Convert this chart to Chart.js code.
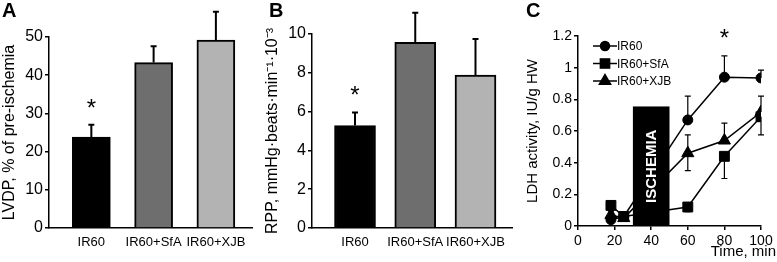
<!DOCTYPE html>
<html>
<head>
<meta charset="utf-8">
<script src="https://cdn.jsdelivr.net/npm/chart.js@4/dist/chart.umd.min.js"></script>
<style>
    body { margin: 0; background: #fff; width: 777px; height: 262px; overflow: hidden; position: relative; }
    canvas { position: absolute; top: 0; }
    .letter { position: absolute; top: 0; font: bold 20px "Liberation Sans", Arial, sans-serif; color: #000; line-height: 20px; }
</style>
</head>
<body>
<canvas id="chartA" width="260" height="262" style="left:0"></canvas>
<canvas id="chartB" width="260" height="262" style="left:260px"></canvas>
<canvas id="chartC" width="257" height="262" style="left:520px"></canvas>
<div class="letter" style="left:2px">A</div>
<div class="letter" style="left:269px">B</div>
<div class="letter" style="left:526px">C</div>

<script>
/* ================================
   DATA
================================ */
const groups = ['IR60', 'IR60+SfA', 'IR60+XJB'];
const groupPos = [1, 2, 3];
const barColors = ['#000000', '#6e6e6e', '#b3b3b3'];

// panel A - LVDP, % of pre-ischemia
const lvdp = [23.8, 43.3, 49.2];
const lvdpErr = [3.2, 4.3, 7.4];

// panel B - RPP
const rpp = [5.28, 9.57, 7.88];
const rppErr = [0.68, 1.53, 1.86];

// panel C - LDH activity over time
const timeMin = [18, 25, 60, 80, 100];
const ldhIR60 = [0.04, 0.06, 0.67, 0.94, 0.935];
const ldhSfA = [0.13, 0.06, 0.12, 0.44, 0.69];
const ldhXJB = [0.07, 0.05, 0.46, 0.54, 0.72];
const ldhIR60Hi = [0.02, 0, 0.15, 0.135, 0.05];
const ldhIR60Lo = [0, 0, 0, 0, 0];
const ldhSfAHi = [0, 0, 0, 0, 0];
const ldhSfALo = [0.03, 0, 0.03, 0.14, 0.115];
const ldhXJBHi = [0.02, 0, 0.115, 0.11, 0.1];
const ldhXJBLo = [0, 0, 0.11, 0, 0];
const ischemiaRange = [30, 50];
const ischemiaTop = 0.755;
const starTime = 80;

const FONT = '"Liberation Sans", Arial, sans-serif';

/* ================================
   SHARED HELPERS
================================ */
function yAxis(max, step, title, fontSize, width, titlePad) {
    return {
        min: 0, max: max,
        ticks: { stepSize: step, color: '#000', font: { family: FONT, size: fontSize }, padding: 2 },
        grid: { display: true, drawOnChartArea: false, drawTicks: true, tickLength: 4, color: '#000', lineWidth: 1.5 },
        border: { display: true, color: '#000', width: 1.5 },
        title: { display: true, text: title, color: '#000', font: { family: FONT, size: 16 }, padding: { top: titlePad, bottom: 0 } },
        afterFit(scale) { scale.width = width; }
    };
}

function drawStar(ctx, x, top) {
    ctx.save();
    ctx.fillStyle = '#000';
    ctx.font = '24px ' + FONT;
    ctx.textAlign = 'center';
    ctx.textBaseline = 'alphabetic';
    ctx.fillText('*', x, top + 3);
    ctx.restore();
}

function barErrorPlugin(values, errs) {
    return {
        id: 'barErrors',
        afterDatasetsDraw(chart) {
            const { ctx, scales: { x, y } } = chart;
            ctx.save();
            ctx.strokeStyle = '#000';
            ctx.lineWidth = 2;
            values.forEach((v, i) => {
                const px = x.getPixelForValue(groupPos[i]);
                const top = y.getPixelForValue(v + errs[i]);
                ctx.beginPath();
                ctx.moveTo(px, y.getPixelForValue(v));
                ctx.lineTo(px, top);
                ctx.moveTo(px - 3, top);
                ctx.lineTo(px + 3, top);
                ctx.stroke();
            });
            ctx.restore();
            // significance mark on IR60
            drawStar(ctx, x.getPixelForValue(groupPos[0]), y.getPixelForValue(values[0] + errs[0]) - 12);
        }
    };
}

function barChart(id, values, errs, yMax, yStep, yTitle, xMin, xMax, leftW, rightPad, topPad, barW, titlePad) {
    new Chart(document.getElementById(id), {
        type: 'bar',
        data: {
            datasets: [{
                data: values.map((v, i) => ({ x: groupPos[i], y: v })),
                backgroundColor: barColors,
                borderColor: '#000',
                borderWidth: 2,
                borderSkipped: 'start',
                barThickness: barW
            }]
        },
        options: {
            responsive: false,
            animation: false,
            layout: { padding: { top: topPad, right: rightPad, left: 0, bottom: 0 } },
            plugins: { legend: { display: false }, tooltip: { enabled: false } },
            scales: {
                x: {
                    type: 'linear', min: xMin, max: xMax, offset: false,
                    afterBuildTicks(scale) { scale.ticks = groupPos.map(v => ({ value: v })); },
                    ticks: { color: '#000', font: { family: FONT, size: 13 }, padding: 7, autoSkip: false, maxRotation: 0,
                        callback: (v, i) => groups[i] },
                    grid: { display: true, offset: false, drawOnChartArea: false, drawTicks: false, color: '#000' },
                    border: { display: true, color: '#000', width: 1.5 },
                    afterFit(scale) { scale.height = 34; }
                },
                y: yAxis(yMax, yStep, yTitle, 16, leftW, titlePad)
            }
        },
        plugins: [barErrorPlugin(values, errs)]
    });
}

/* ================================
   PANELS A & B
================================ */
barChart('chartA', lvdp, lvdpErr, 50, 10, 'LVDP, % of pre-ischemia', 0.32, 3.58, 49, 8, 37, 38, 0);
barChart('chartB', rpp, rppErr, 10, 2, 'RPP, mmHg·beats·min⁻¹·10⁻³', 0.286, 3.606, 52, 8, 34, 41, 3);

/* ================================
   PANEL C - LDH TIME COURSE
================================ */
const ldhSeries = [
    { label: 'IR60', data: ldhIR60, hi: ldhIR60Hi, lo: ldhIR60Lo, style: 'circle', r: 5 },
    { label: 'IR60+SfA', data: ldhSfA, hi: ldhSfAHi, lo: ldhSfALo, style: 'rect', r: 7 },
    { label: 'IR60+XJB', data: ldhXJB, hi: ldhXJBHi, lo: ldhXJBLo, style: 'triangle', r: 7 }
];

const ldhPlugin = {
    id: 'ldhExtras',
    afterDatasetsDraw(chart) {
        const { ctx, scales: { x, y } } = chart;
        ctx.save();
        // error bars
        ctx.strokeStyle = '#000';
        ctx.lineWidth = 1.2;
        ldhSeries.forEach(s => {
            timeMin.forEach((t, i) => {
                const px = x.getPixelForValue(t);
                [s.hi[i], -s.lo[i]].forEach(e => {
                    if (!e) return;
                    const end = y.getPixelForValue(s.data[i] + e);
                    ctx.beginPath();
                    ctx.moveTo(px, y.getPixelForValue(s.data[i]));
                    ctx.lineTo(px, end);
                    ctx.moveTo(px - 3, end);
                    ctx.lineTo(px + 3, end);
                    ctx.stroke();
                });
            });
        });

        // ischemia block covers the lines
        const bx0 = x.getPixelForValue(ischemiaRange[0]);
        const bx1 = x.getPixelForValue(ischemiaRange[1]);
        const by0 = y.getPixelForValue(ischemiaTop);
        const by1 = y.getPixelForValue(0);
        ctx.fillStyle = '#000';
        ctx.fillRect(bx0, by0, bx1 - bx0, by1 - by0);
        ctx.save();
        ctx.translate((bx0 + bx1) / 2, (by0 + by1) / 2);
        ctx.rotate(-Math.PI / 2);
        ctx.fillStyle = '#fff';
        ctx.font = 'bold 15px ' + FONT;
        ctx.textAlign = 'center';
        ctx.textBaseline = 'middle';
        ctx.fillText('ISCHEMIA', 0, 1);
        ctx.restore();

        // legend
        ctx.font = '12px ' + FONT;
        ctx.textAlign = 'left';
        ctx.textBaseline = 'middle';
        ldhSeries.forEach((s, i) => {
            const ly = 46 + i * 17.5;
            ctx.lineWidth = 1.5;
            ctx.beginPath();
            ctx.moveTo(73, ly);
            ctx.lineTo(97, ly);
            ctx.stroke();
            Chart.helpers.drawPoint(ctx, { pointStyle: s.style, radius: s.r - 0.5, rotation: 0, borderWidth: 1 }, 85, ly);
            ctx.fillStyle = '#000';
            ctx.fill();
            ctx.fillText(s.label, 97, ly + 1);
        });

        // x axis caption
        ctx.font = '15px ' + FONT;
        ctx.textAlign = 'right';
        ctx.fillText('Time, min', 256, 252);
        ctx.restore();

        // significance mark at 80 min
        const si = timeMin.indexOf(starTime);
        drawStar(ctx, x.getPixelForValue(starTime), y.getPixelForValue(ldhIR60[si] + ldhIR60Hi[si]) - 13);
    }
};

new Chart(document.getElementById('chartC'), {
    type: 'line',
    data: {
        datasets: ldhSeries.map(s => ({
            label: s.label,
            data: timeMin.map((t, i) => ({ x: t, y: s.data[i] })),
            borderColor: '#000',
            borderWidth: 1.5,
            backgroundColor: '#000',
            pointStyle: s.style,
            pointRadius: s.r,
            pointBackgroundColor: '#000',
            pointBorderColor: '#000',
            pointBorderWidth: 1
        }))
    },
    options: {
        responsive: false,
        animation: false,
        layout: { padding: { top: 36, right: 16, left: 0, bottom: 0 } },
        plugins: { legend: { display: false }, tooltip: { enabled: false } },
        scales: {
            x: {
                type: 'linear', min: 0, max: 100,
                ticks: { stepSize: 20, color: '#000', font: { family: FONT, size: 14 }, padding: 3, maxRotation: 0 },
                grid: { display: true, drawOnChartArea: false, drawTicks: true, tickLength: 4, color: '#000', lineWidth: 1.5 },
                border: { display: true, color: '#000', width: 1.5 },
                afterFit(scale) { scale.height = 36; }
            },
            y: {
                min: 0, max: 1.2,
                ticks: { stepSize: 0.2, color: '#000', font: { family: FONT, size: 14 }, padding: 2,
                    callback: v => Number(v.toFixed(1)).toString() },
                grid: { display: true, drawOnChartArea: false, drawTicks: true, tickLength: 4, color: '#000', lineWidth: 1.5 },
                border: { display: true, color: '#000', width: 1.5 },
                title: { display: true, text: 'LDH activity, IU/g HW', color: '#000', font: { family: FONT, size: 15 }, padding: { top: 4, bottom: 0 } },
                afterFit(scale) { scale.width = 58; }
            }
        }
    },
    plugins: [ldhPlugin]
});
</script>
</body>
</html>
